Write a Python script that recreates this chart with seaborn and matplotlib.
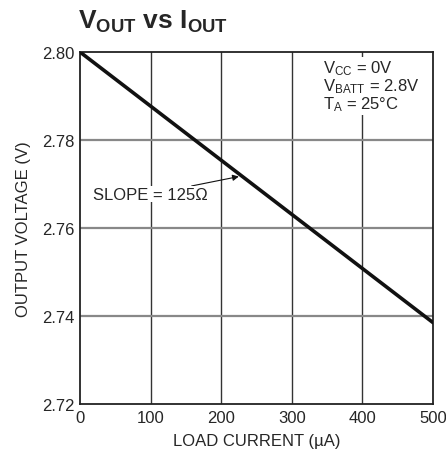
import matplotlib
matplotlib.use("Agg")
import matplotlib.pyplot as plt
import seaborn as sns
import numpy as np
import pandas as pd
from matplotlib import font_manager

load_current = [0, 500]
output_voltage = [2.800, 2.7385]
x_ticks = [0, 100, 200, 300, 400, 500]
y_ticks = [2.72, 2.74, 2.76, 2.78, 2.80]

sns.set_theme(style="white")
names = {f.name for f in font_manager.fontManager.ttflist}
fam = "Liberation Sans Narrow" if "Liberation Sans Narrow" in names else "Liberation Sans"
plt.rcParams['font.family'] = [fam, 'DejaVu Sans']
plt.rcParams['mathtext.fontset'] = 'custom'
plt.rcParams['mathtext.rm'] = fam
plt.rcParams['mathtext.it'] = fam
plt.rcParams['mathtext.bf'] = fam + ':bold'

fig = plt.figure(figsize=(4.46, 4.64), dpi=100)
ax = fig.add_axes([80/446, 59/464, 353/446, 352/464])

df = pd.DataFrame({"I": load_current, "V": output_voltage})
sns.lineplot(data=df, x="I", y="V", ax=ax, color="#111111", linewidth=2.6, zorder=5)

ax.set_xlim(0, 500)
ax.set_ylim(2.72, 2.80)
ax.set_xticks(x_ticks)
ax.set_yticks(y_ticks)
ax.set_xticklabels([str(t) for t in x_ticks], fontsize=12)
ax.set_yticklabels([f"{t:.2f}" for t in y_ticks], fontsize=12)
ax.tick_params(length=0, pad=4)
for t in x_ticks[1:-1]:
    ax.axvline(t, color="#333333", linewidth=1.0, zorder=1)
for t in y_ticks[1:-1]:
    ax.axhline(t, color="#888888", linewidth=1.6, zorder=1)
for s in ax.spines.values():
    s.set_color("#222222")
    s.set_linewidth(1.3)

ax.set_xlabel("LOAD CURRENT (µA)", fontsize=12, labelpad=6)
ax.set_ylabel("OUTPUT VOLTAGE (V)", fontsize=12, labelpad=8)

fig.text(78/446, 1 - 22/464, r"$\mathbf{V_{OUT}}$ $\mathbf{vs}$ $\mathbf{I_{OUT}}$",
         fontsize=19, ha="left", va="center")

ax.text(344, 2.7985,
        r"$\mathrm{V_{CC}}$ = 0V" + "\n" + r"$\mathrm{V_{BATT}}$ = 2.8V" + "\n" + r"$\mathrm{T_A}$ = 25°C",
        fontsize=12, ha="left", va="top", linespacing=0.95, zorder=3,
        bbox=dict(facecolor="white", edgecolor="none", pad=1))

ax.annotate("SLOPE = 125Ω", xy=(225, 2.7717), xytext=(19, 2.7677),
            fontsize=12, ha="left", va="center", zorder=6,
            bbox=dict(facecolor="white", edgecolor="none", pad=0.5),
            arrowprops=dict(arrowstyle="-|>", color="#111111", lw=0.8,
                            shrinkA=0, shrinkB=0, mutation_scale=9))

fig.savefig("out.png", dpi=100, facecolor="white")
